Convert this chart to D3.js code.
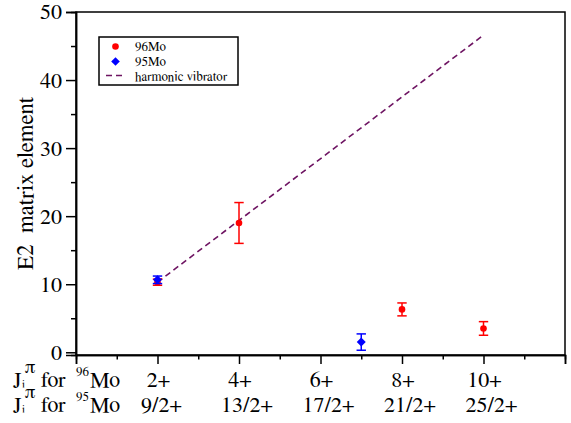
<!DOCTYPE html>
<html>
<head>
<meta charset="utf-8">
<script src="https://cdn.jsdelivr.net/npm/d3@7"></script>
</head>
<body style="margin:0;background:#fff">
<svg id="chart" width="571" height="423" style="display:block"></svg>
<script>
// ---- data ----
const mo96X = [2, 4, 8, 10];
const mo96Y = [10.3, 19.0, 6.3, 3.5];
const mo96Err = [0.45, 3.0, 0.95, 1.0];

const mo95X = [2, 7];
const mo95Y = [10.65, 1.5];
const mo95Err = [0.55, 1.2];

const vibX = [2, 10];
const vibY = [10.3, 46.6];

const labelPos = [2, 4, 6, 8, 10];
const row1Labels = ["2+", "4+", "6+", "8+", "10+"];
const row2Labels = ["9/2+", "13/2+", "17/2+", "21/2+", "25/2+"];

const yMajor = [0, 10, 20, 30, 40, 50];
const yMinor = [5, 15, 25, 35, 45];
const xMajor = [0, 2, 4, 6, 8, 10, 12];
const xMinor = [1, 3, 5, 7, 9, 11];

const legendLabels = ["96Mo", "95Mo", "harmonic vibrator"];

// ---- layout ----
const svg = d3.select("#chart");
const L = 76, R = 565, T0 = 12, B = 355;
const x = d3.scaleLinear().domain([0, 12]).range([L, R]);
const y = d3.scaleLinear().domain([-0.4, 50]).range([B, T0]);

const RED = "#ff0000", BLUE = "#0000ff", PURPLE = "#6e1462";
const FAMILY = '"FreeSerif", "Liberation Serif", "Times New Roman"';

// text helper: serif text drawn at 28px and scaled to the wanted size
function T(parent, tx, ty, size, str, opts = {}) {
  const g = parent.append("g")
    .attr("transform", `translate(${tx},${ty})${opts.rotate ? ` rotate(${opts.rotate})` : ""} scale(${size / 28})`);
  const t = g.append("text")
    .style("font-family", FAMILY)
    .style("font-size", "28px")
    .attr("fill", "#000")
    .attr("text-anchor", opts.anchor || "start");
  if (opts.dy) t.attr("dy", opts.dy);
  if (opts.pre) t.style("white-space", "pre");
  t.text(str);
  return t;
}

// frame
svg.append("rect").attr("x", L).attr("y", T0).attr("width", R - L).attr("height", B - T0)
  .attr("fill", "none").attr("stroke", "#000").attr("stroke-width", 1.5);

// y axis
const gy = svg.append("g").attr("transform", `translate(${L},0)`);
gy.call(d3.axisLeft(y).tickValues(yMajor).tickSize(10).tickFormat(""));
const gy2 = svg.append("g").attr("transform", `translate(${L},0)`);
gy2.call(d3.axisLeft(y).tickValues(yMinor).tickSize(5).tickFormat(""));
// x axis
const gx = svg.append("g").attr("transform", `translate(0,${B})`);
gx.call(d3.axisBottom(x).tickValues(xMajor).tickSize(9).tickFormat(""));
const gx2 = svg.append("g").attr("transform", `translate(0,${B})`);
gx2.call(d3.axisBottom(x).tickValues(xMinor).tickSize(4.5).tickFormat(""));

svg.selectAll(".domain").attr("stroke-width", 1.5);
svg.selectAll(".tick line").attr("stroke-width", 1.5);
svg.selectAll(".tick text").remove();

// y tick labels
const gyl = svg.append("g");
yMajor.forEach(v => T(gyl, L - 14, y(v), 22, String(v), { anchor: "end", dy: "0.34em" }));

// y label
T(svg, 33, 183.5, 23, "E2  matrix element", { rotate: -90, anchor: "middle", pre: true });

// x tick labels rows
const base1 = 387, base2 = 412;
const gxl = svg.append("g");
labelPos.forEach((d, i) => T(gxl, x(d) + 1, base1, 22, row1Labels[i], { anchor: "middle" }));
labelPos.forEach((d, i) => T(gxl, x(d) + (i === 0 ? 4 : 8), base2, 22, row2Labels[i], { anchor: "middle" }));

// row labels
function rowLabel(base, iso) {
  const g = svg.append("g");
  T(g, 13, base, 22, "J");
  T(g, 22, base + 1, 11, "i");
  T(g, 24.5, base - 14, 19, "π");
  T(g, 41, base, 22, "for");
  T(g, 76, base - 11, 13, iso);
  T(g, 90, base, 22, "Mo");
}
rowLabel(base1, "96");
rowLabel(base2, "95");

// harmonic vibrator line
const vib = vibX.map((d, i) => [d, vibY[i]]);
svg.append("path").datum(vib)
  .attr("d", d3.line().x(d => x(d[0])).y(d => y(d[1])))
  .attr("fill", "none").attr("stroke", PURPLE).attr("stroke-width", 1.6)
  .attr("stroke-dasharray", "6,4");

// error bars
function errBars(xs, ys, es, color) {
  const g = svg.append("g").attr("stroke", color).attr("stroke-width", 1.5).attr("fill", "none");
  xs.forEach((xv, i) => {
    const cx = x(xv), y0 = y(ys[i] - es[i]), y1 = y(ys[i] + es[i]);
    g.append("line").attr("x1", cx).attr("x2", cx).attr("y1", y0).attr("y2", y1);
    g.append("line").attr("x1", cx - 4.7).attr("x2", cx + 4.7).attr("y1", y0).attr("y2", y0);
    g.append("line").attr("x1", cx - 4.7).attr("x2", cx + 4.7).attr("y1", y1).attr("y2", y1);
  });
}
errBars(mo96X, mo96Y, mo96Err, RED);
svg.append("g").selectAll("circle").data(mo96X).join("circle")
  .attr("cx", d => x(d)).attr("cy", (d, i) => y(mo96Y[i])).attr("r", 3.3).attr("fill", RED);

errBars(mo95X, mo95Y, mo95Err, BLUE);
const diamond = r => `M0,${-r}L${r},0L0,${r}L${-r},0Z`;
svg.append("g").selectAll("path").data(mo95X).join("path")
  .attr("transform", (d, i) => `translate(${x(d)},${y(mo95Y[i])})`)
  .attr("d", diamond(4.5)).attr("fill", BLUE);

// legend
const lg = svg.append("g");
lg.append("rect").attr("x", 99).attr("y", 37).attr("width", 139).attr("height", 48)
  .attr("fill", "#fff").attr("stroke", "#000").attr("stroke-width", 1.5);
lg.append("circle").attr("cx", 115.5).attr("cy", 46.5).attr("r", 3.3).attr("fill", RED);
lg.append("path").attr("transform", "translate(115.5,61.5)").attr("d", diamond(4.3)).attr("fill", BLUE);
lg.append("line").attr("x1", 106).attr("x2", 126).attr("y1", 75.5).attr("y2", 75.5)
  .attr("stroke", PURPLE).attr("stroke-width", 1.6).attr("stroke-dasharray", "6,4");
legendLabels.forEach((d, i) => T(lg, 135, 51 + i * 15, 13, d));
</script>
</body>
</html>
